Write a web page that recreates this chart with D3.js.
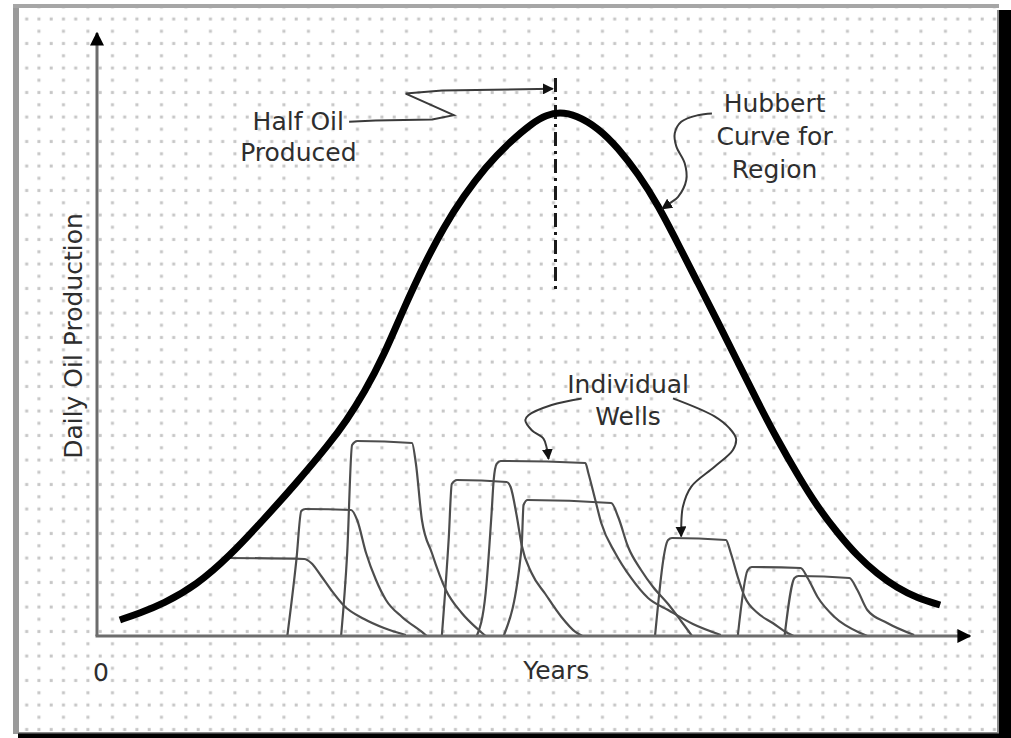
<!DOCTYPE html>
<html>
<head>
<meta charset="utf-8">
<script src="https://cdn.jsdelivr.net/npm/d3@7"></script>
<style>
  body { margin: 0; background: #fff; }
  svg { display: block; }
</style>
</head>
<body>
<div id="chart"></div>
<script>
const width = 1011;
const height = 738;

// [year, daily production]
const hubbertCurve = [
  [1.31, 2.67], [2.45, 3.83], [3.77, 5.33], [5.71, 8.5], [7.59, 13.33],
  [9.47, 19.17], [11.42, 25.5], [13.3, 32.0], [14.27, 35.83], [15.3, 40.5],
  [16.44, 46.83], [17.58, 54.67], [18.72, 61.83], [19.86, 68.17], [21.0, 73.33],
  [22.26, 78.17], [23.57, 82.17], [25.0, 85.67], [25.74, 86.83], [26.48, 87.33],
  [27.45, 86.83], [28.71, 84.67], [29.85, 81.33], [31.0, 77.0], [32.13, 71.83],
  [33.28, 65.33], [34.42, 58.83], [35.56, 52.33], [36.7, 45.67], [37.84, 39.0],
  [38.98, 32.67], [40.13, 26.83], [41.27, 21.5], [42.41, 17.17], [43.55, 13.33],
  [44.69, 10.33], [45.83, 8.0], [46.97, 6.33], [48.29, 5.17],
];

const wellA = [
  [7.48, 13.0], [11.87, 12.83], [12.27, 12.17], [12.84, 10.0], [13.41, 7.67],
  [14.16, 5.0], [15.3, 2.83], [16.44, 1.33], [17.69, 0.17],
];
const wellB = [
  [10.9, 0], [11.42, 12.67], [11.7, 20.83], [11.93, 21.17], [14.55, 21.0],
  [14.9, 19.33], [15.41, 13.83], [15.98, 9.33], [16.55, 6.0], [17.47, 3.17],
  [18.61, 0.67], [18.89, 0],
];
const wellC = [
  [13.98, 0], [14.33, 13.83], [14.61, 31.83], [14.9, 32.5], [18.04, 32.17],
  [18.26, 28.83], [18.61, 19.33], [19.18, 13.83], [19.98, 7.67], [20.89, 3.83],
  [21.86, 1.0], [22.26, 0],
];
const wellD = [
  [19.75, 0], [20.15, 16.5], [20.32, 25.33], [20.61, 26.0], [23.46, 25.67],
  [23.69, 24.83], [24.03, 20.17], [24.32, 15.17], [24.89, 10.5], [25.68, 7.0],
  [26.6, 3.17], [27.4, 0.67], [27.8, 0],
];
const wellE = [
  [21.75, 0], [22.26, 7.17], [22.6, 20.5], [22.72, 26.0], [22.89, 28.67],
  [23.12, 29.17], [27.97, 28.83], [28.14, 27.17], [28.54, 22.67], [28.88, 18.83],
  [29.68, 13.83], [30.59, 9.67], [31.56, 6.33], [32.71, 4.33], [34.13, 2.0],
  [35.73, 0.17],
];
const wellF = [
  [23.29, 0], [24.32, 14.83], [24.43, 21.83], [24.66, 22.67], [29.45, 22.17],
  [29.85, 19.83], [30.42, 14.83], [31.16, 11.0], [31.85, 8.17], [32.71, 5.33],
  [33.45, 2.5], [34.08, 0],
];
const wellG = [
  [31.96, 0], [32.71, 16.0], [32.93, 16.33], [36.02, 16.0], [36.3, 13.83],
  [36.7, 9.83], [37.1, 6.5], [37.84, 3.83], [38.7, 2.17], [39.55, 0.5], [39.9, 0],
];
const wellH = [
  [36.7, 0], [37.27, 11.0], [37.5, 11.5], [40.3, 11.33], [40.7, 9.67],
  [41.27, 6.5], [42.24, 3.17], [43.72, 0.5], [44.12, 0],
];
const wellI = [
  [39.38, 0], [39.95, 9.67], [40.18, 10.0], [43.09, 9.67], [43.55, 7.67],
  [44.12, 4.33], [45.26, 2.17], [46.8, 0.17],
];
const wells = [wellA, wellB, wellC, wellD, wellE, wellF, wellG, wellH, wellI];

// half oil marker
const halfOilYear = 26.26;
const halfOilSpan = [57.3, 93.0];

// annotation leaders, same units
const halfOilLeader = [
  [14.44, 85.7], [15.96, 85.9], [19.2, 86.1], [20.43, 86.8], [17.68, 90.4],
  [19.77, 90.9], [26.1, 91.2],
];
const hubbertLeader = [
  [35.22, 87.1], [34.42, 86.8], [33.46, 85.7], [33.09, 83.8], [33.18, 81.6],
  [33.66, 78.8], [33.75, 76.0], [33.28, 73.2], [32.8, 72.1], [32.36, 71.2],
];
const wellLeaderLeft = [
  [27.76, 39.6], [26.04, 38.5], [24.71, 36.8], [24.53, 36.0], [24.9, 34.3],
  [25.57, 32.9], [25.76, 31.3], [25.86, 29.5],
];
const wellLeaderRight = [
  [32.99, 39.6], [35.37, 36.6], [36.23, 34.6], [36.6, 32.9], [36.42, 31.0],
  [35.37, 28.2], [34.04, 24.9], [33.56, 21.6], [33.46, 18.2], [33.46, 16.6],
];

const halfOilLabel = ["Half Oil", "Produced"];
const hubbertLabel = ["Hubbert", "Curve for", "Region"];
const wellsLabel = ["Individual", "Wells"];
const xTickLabels = ["0"];
const xTitle = "Years";
const yTitle = "Daily Oil Production";

const margin = { top: 36, right: 38, bottom: 102, left: 97 };

const svg = d3
  .select("#chart")
  .append("svg")
  .attr("width", width)
  .attr("height", height);

const x = d3
  .scaleLinear()
  .domain([0, 50])
  .range([margin.left, width - margin.right - 3]);

const y = d3
  .scaleLinear()
  .domain([0, 100])
  .range([height - margin.bottom, margin.top]);

const defs = svg.append("defs");

// dotted grid paper
const dots = defs
  .append("pattern")
  .attr("id", "dots")
  .attr("patternUnits", "userSpaceOnUse")
  .attr("width", 24.5)
  .attr("height", 24.5);
[[2.2, 19], [14.45, 19], [14.45, 6.75]].forEach(([cx, cy]) => {
  dots
    .append("rect")
    .attr("x", cx - 1.5)
    .attr("y", cy - 1.5)
    .attr("width", 3)
    .attr("height", 3)
    .attr("fill", "#c6c6c6");
});

function addArrow(id, size, color) {
  defs
    .append("marker")
    .attr("id", id)
    .attr("markerUnits", "userSpaceOnUse")
    .attr("viewBox", "0 0 10 10")
    .attr("refX", 9)
    .attr("refY", 5)
    .attr("markerWidth", size)
    .attr("markerHeight", size)
    .attr("orient", "auto")
    .append("path")
    .attr("d", "M0,0 L10,5 L0,10 z")
    .attr("fill", color);
}
addArrow("axis-arrow", 14, "#000");
addArrow("note-arrow", 11, "#111");

// frame
svg.append("rect").attr("width", width).attr("height", height).attr("fill", "#fff");
svg
  .append("rect")
  .attr("x", 19)
  .attr("y", 8)
  .attr("width", 980)
  .attr("height", 725)
  .attr("fill", "url(#dots)");
svg.append("rect").attr("x", 13).attr("y", 4).attr("width", 6).attr("height", 730).attr("fill", "#9a9a9a");
svg.append("rect").attr("x", 13).attr("y", 4).attr("width", 986).attr("height", 4).attr("fill", "#a6a6a6");
svg.append("rect").attr("x", 999).attr("y", 10).attr("width", 12).attr("height", 728).attr("fill", "#000");
svg.append("rect").attr("x", 18).attr("y", 733).attr("width", 993).attr("height", 5).attr("fill", "#000");
svg.append("rect").attr("x", 18).attr("y", 732).attr("width", 981).attr("height", 1.5).attr("fill", "#8a8a8a");
svg.append("rect").attr("x", 997).attr("y", 10).attr("width", 2).attr("height", 723).attr("fill", "#8a8a8a");

// wells
const wellLine = d3
  .line()
  .x((d) => x(d[0]))
  .y((d) => y(d[1]))
  .curve(d3.curveMonotoneX);

svg
  .append("g")
  .selectAll("path")
  .data(wells)
  .join("path")
  .attr("d", wellLine)
  .attr("fill", "none")
  .attr("stroke", "#4d4d4d")
  .attr("stroke-width", 2.2)
  .attr("stroke-linejoin", "round");

// axes
svg
  .append("line")
  .attr("x1", x(0))
  .attr("y1", y(0))
  .attr("x2", x(0))
  .attr("y2", y(100.5))
  .attr("stroke", "#6c6c6c")
  .attr("stroke-width", 3)
  .attr("marker-end", "url(#axis-arrow)");

svg
  .append("line")
  .attr("x1", x(0) - 1.5)
  .attr("y1", y(0))
  .attr("x2", x(50))
  .attr("y2", y(0))
  .attr("stroke", "#6c6c6c")
  .attr("stroke-width", 3)
  .attr("marker-end", "url(#axis-arrow)");

// half oil marker
svg
  .append("line")
  .attr("x1", x(halfOilYear))
  .attr("x2", x(halfOilYear))
  .attr("y1", y(halfOilSpan[1]))
  .attr("y2", y(halfOilSpan[0]))
  .attr("stroke", "#1a1a1a")
  .attr("stroke-width", 3)
  .attr("stroke-dasharray", "14,5,3,5");

// hubbert curve
svg
  .append("path")
  .datum(hubbertCurve)
  .attr("d", d3.line().x((d) => x(d[0])).y((d) => y(d[1])).curve(d3.curveBasis))
  .attr("fill", "none")
  .attr("stroke", "#000")
  .attr("stroke-width", 7);

// leaders
const leaderSmooth = d3
  .line()
  .x((d) => x(d[0]))
  .y((d) => y(d[1]))
  .curve(d3.curveCatmullRom.alpha(0.5));

svg
  .append("path")
  .datum(halfOilLeader)
  .attr("d", d3.line().x((d) => x(d[0])).y((d) => y(d[1])))
  .attr("fill", "none")
  .attr("stroke", "#3a3a3a")
  .attr("stroke-width", 2)
  .attr("marker-end", "url(#note-arrow)");

svg
  .append("g")
  .selectAll("path")
  .data([hubbertLeader, wellLeaderLeft, wellLeaderRight])
  .join("path")
  .attr("d", leaderSmooth)
  .attr("fill", "none")
  .attr("stroke", "#3a3a3a")
  .attr("stroke-width", 2)
  .attr("marker-end", "url(#note-arrow)");

// text
const font = "'DejaVu Sans', Verdana, sans-serif";

function addLabel(lines, cx, baseline, step) {
  svg
    .append("g")
    .selectAll("text")
    .data(lines)
    .join("text")
    .attr("x", x(cx))
    .attr("y", (d, i) => y(baseline) + i * step)
    .attr("text-anchor", "middle")
    .attr("font-family", font)
    .attr("font-size", 25)
    .attr("fill", "#2e2e2e")
    .text((d) => d);
}

addLabel(halfOilLabel, 11.53, 84.33, 31);
addLabel(hubbertLabel, 38.81, 87.38, 33);
addLabel(wellsLabel, 30.42, 40.5, 32);

svg
  .append("text")
  .attr("x", x(0) + 4)
  .attr("y", 681)
  .attr("text-anchor", "middle")
  .attr("font-family", font)
  .attr("font-size", 25)
  .attr("fill", "#2e2e2e")
  .text(xTickLabels[0]);

svg
  .append("text")
  .attr("x", x(26.3))
  .attr("y", 679)
  .attr("text-anchor", "middle")
  .attr("font-family", font)
  .attr("font-size", 25)
  .attr("fill", "#2e2e2e")
  .text(xTitle);

svg
  .append("text")
  .attr("transform", `translate(82, ${(y(0) + y(100)) / 2}) rotate(-90)`)
  .attr("text-anchor", "middle")
  .attr("font-family", font)
  .attr("font-size", 25)
  .attr("fill", "#2e2e2e")
  .text(yTitle);
</script>
</body>
</html>
